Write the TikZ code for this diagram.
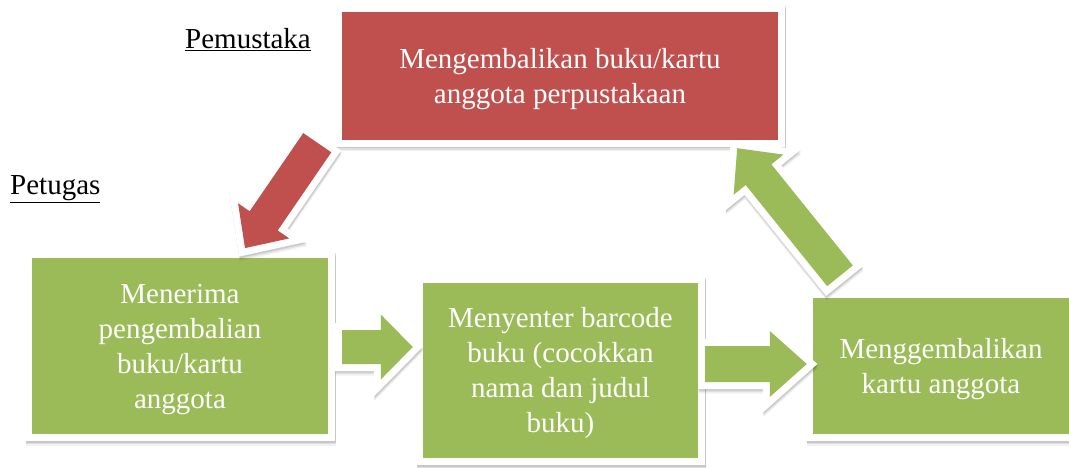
\documentclass[tikz,border=0pt]{standalone}
\usepackage{fontspec}
\setmainfont{Liberation Serif}
\usetikzlibrary{calc}

\definecolor{pemustakared}{HTML}{C0504D}
\definecolor{petugasgreen}{HTML}{9BBB59}

% room above the first line, as the line box of the font
\newcommand{\linetop}{\rule{0pt}{26pt}}

% fat arrow: style, tail, tip, half shaft, half head, head length
\newcommand{\blockarrow}[6]{%
  \coordinate (HeadBase) at ($(#3)!#6!(#2)$);
  \path[#1] ($(#2)!#4!90:(#3)$) -- ($(HeadBase)!#4!90:(#3)$)
    -- ($(HeadBase)!#5!90:(#3)$) -- (#3) -- ($(HeadBase)!#5!-90:(#3)$)
    -- ($(HeadBase)!#4!-90:(#3)$) -- ($(#2)!#4!-90:(#3)$) -- cycle;
}

\begin{document}
\begin{tikzpicture}[x=1pt, y=-1pt,
    shadowlayer/.style 2 args={preaction={draw=black, fill=black, line width=14pt,
        opacity=#2, line join=miter, transform canvas={xshift=0.5pt, yshift=#1}}},
    shadowed/.style={shadowlayer={-1.5pt}{0.10}, shadowlayer={-3pt}{0.08},
        shadowlayer={-4.5pt}{0.05}},
    whiteborder/.style={preaction={draw=white, line width=14pt, line join=miter}},
    task/.style={rectangle, fill=#1, shadowed, whiteborder, text=white, align=center,
        inner sep=0pt, font=\fontsize{29}{35}\selectfont},
    role/.style={anchor=base west, inner sep=0pt, font=\fontsize{29}{35}\selectfont},
    blockarrow/.style={fill=#1, shadowed, whiteborder}
]
\useasboundingbox (0,0) rectangle (1069,468);

\node (Pemustaka01) [task=pemustakared, minimum width=436pt, minimum height=128pt]
  at (560,76) {\linetop Mengembalikan buku/kartu\\anggota perpustakaan};
\node (Petugas01) [task=petugasgreen, minimum width=296pt, minimum height=176pt]
  at (180,346) {\linetop Menerima\\pengembalian\\buku/kartu\\anggota};
\node (Petugas02) [task=petugasgreen, minimum width=275pt, minimum height=175pt]
  at (560.5,370.5) {\linetop Menyenter barcode\\buku (cocokkan\\nama dan judul\\buku)};
\node (Petugas03) [task=petugasgreen, minimum width=256pt, minimum height=136pt]
  at (941,366) {\linetop Menggembalikan\\kartu anggota};

\node (RolePemustaka) [role] at (185,49) {\underline{Pemustaka}};
\node (RolePetugas) [role] at (10,195) {\underline{Petugas}};

% arrows between the steps
\coordinate (ArrowTail01) at ($(Pemustaka01.south west)+(-24.5,2.5)$);
\coordinate (ArrowTip01) at ($(Petugas01.north)+(65,-9.7)$);
\coordinate (ArrowTail02) at ($(Petugas01.east)+(14,1)$);
\coordinate (ArrowTip02) at ($(Petugas01.east -| Petugas02.west)+(-10,1)$);
\coordinate (ArrowTail03) at ($(Petugas02.east)+(7,-6.5)$);
\coordinate (ArrowTip03) at ($(Petugas02.east -| Petugas03.west)+(-6,-6.5)$);
\coordinate (ArrowTail04) at ($(Petugas03.north)+(-101,-22)$);
\coordinate (ArrowTip04) at ($(Pemustaka01.south east)+(-41,8)$);

\blockarrow{blockarrow=pemustakared}{ArrowTail01}{ArrowTip01}{17pt}{31pt}{33pt}
\blockarrow{blockarrow=petugasgreen}{ArrowTail02}{ArrowTip02}{17pt}{32.5pt}{32pt}
\blockarrow{blockarrow=petugasgreen}{ArrowTail03}{ArrowTip03}{18pt}{33pt}{37pt}
\blockarrow{blockarrow=petugasgreen}{ArrowTail04}{ArrowTip04}{16.5pt}{32pt}{34pt}
\end{tikzpicture}
\end{document}
